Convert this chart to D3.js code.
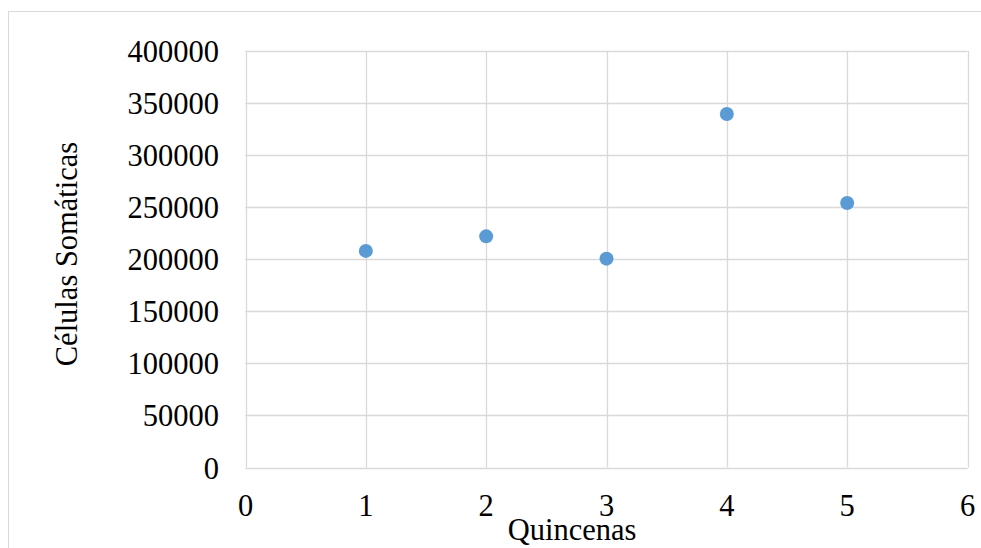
<!DOCTYPE html>
<html><head><meta charset="utf-8">
<script src="https://cdn.jsdelivr.net/npm/d3@7"></script>
<style>body{margin:0;background:#fff}svg{display:block}</style>
</head><body>
<script>
const quincenas = [1, 2, 3, 4, 5];
const celulas = [208000, 222000, 200600, 339500, 254000];
const xTicks = [0, 1, 2, 3, 4, 5, 6];
const yTicks = [0, 50000, 100000, 150000, 200000, 250000, 300000, 350000, 400000];
const xTitle = "Quincenas";
const yTitle = "Células Somáticas";

const W = 981, H = 548;
const svg = d3.select("body").append("svg").attr("width", W).attr("height", H);
const font = "'Liberation Serif','Times New Roman',serif";
const grid = "#d9d9d9";

svg.append("rect").attr("x", 8.5).attr("y", 11.5).attr("width", 1000).attr("height", 600)
  .attr("fill", "#fff").attr("stroke", grid).attr("stroke-width", 1);

const x = d3.scaleLinear().domain([0, 6]).range([245.5, 967.5]);
const y = d3.scaleLinear().domain([0, 400000]).range([467.5, 51]);

const g = svg.append("g");
g.selectAll("line.h").data(yTicks).join("line")
  .attr("x1", x(0)).attr("x2", x(6)).attr("y1", d => Math.round(y(d)) + 0.5).attr("y2", d => Math.round(y(d)) + 0.5)
  .attr("stroke", grid).attr("stroke-width", 1.3);
g.selectAll("line.v").data(xTicks).join("line")
  .attr("y1", y(0)).attr("y2", y(400000)).attr("x1", d => Math.round(x(d)) + 0.5).attr("x2", d => Math.round(x(d)) + 0.5)
  .attr("stroke", grid).attr("stroke-width", 1.3);

svg.selectAll("text.yt").data(yTicks).join("text")
  .attr("x", 219).attr("y", d => y(d) + 11).attr("text-anchor", "end")
  .attr("font-family", font).attr("font-size", 30.5).attr("fill", "#000").text(d => d);
svg.selectAll("text.xt").data(xTicks).join("text")
  .attr("x", d => x(d)).attr("y", 516).attr("text-anchor", "middle")
  .attr("font-family", font).attr("font-size", 30.5).attr("fill", "#000").text(d => d);

svg.append("text").attr("x", 572).attr("y", 540).attr("text-anchor", "middle")
  .attr("font-family", font).attr("font-size", 30.5).text(xTitle);
svg.append("text").attr("transform", "translate(77,254) rotate(-90)").attr("text-anchor", "middle")
  .attr("font-family", font).attr("font-size", 30.5).text(yTitle);

svg.selectAll("circle.pt").data(quincenas).join("circle")
  .attr("cx", (d) => x(d)).attr("cy", (d, i) => y(celulas[i])).attr("r", 7)
  .attr("fill", "#5b9bd5");
</script>
</body></html>
